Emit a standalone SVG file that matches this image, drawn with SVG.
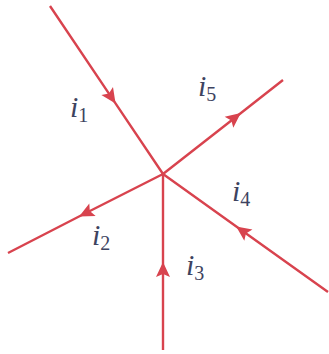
<svg xmlns="http://www.w3.org/2000/svg" width="329" height="354" viewBox="0 0 329 354">
<style>
.w{fill:none;stroke:#d8434e;stroke-width:2.4;marker-mid:url(#ah)}
.l{font-family:"Liberation Serif","Times New Roman",serif;font-style:italic;font-size:30px;fill:#3d4360}
.s{font-style:normal;font-size:20px}
</style>
<defs>
<marker id="ah" markerUnits="userSpaceOnUse" markerWidth="22" markerHeight="22" viewBox="-18 -9 22 18" refX="0" refY="0" orient="auto">
<path d="M1,0 L-14,-7 L-11,0 L-14,7 z" fill="#d8434e"/>
</marker>
</defs>
<rect width="329" height="354" fill="#fff"/>
<g id="connectors">
<path id="w1" class="w" d="M50,6 L115,102.6 L163,174"/>
<path id="w5" class="w" d="M163,174 L240,113.7 L283,80"/>
<path id="w2" class="w" d="M163,174 L80,216 L8,253"/>
<path id="w3" class="w" d="M163,350 L163,263 L163,174"/>
<path id="w4" class="w" d="M328,292 L237,227 L163,174"/>
</g>
<g id="junction"><circle cx="163" cy="174" r="1.5" fill="#d8434e"/></g>
<g id="i1"><text class="l" x="70" y="117">i<tspan class="s" dy="5">1</tspan></text></g>
<g id="i5"><text class="l" x="198" y="96">i<tspan class="s" dy="5">5</tspan></text></g>
<g id="i4"><text class="l" x="232" y="201">i<tspan class="s" dy="5">4</tspan></text></g>
<g id="i2"><text class="l" x="92" y="245">i<tspan class="s" dy="5">2</tspan></text></g>
<g id="i3"><text class="l" x="186" y="275">i<tspan class="s" dy="5">3</tspan></text></g>
</svg>
